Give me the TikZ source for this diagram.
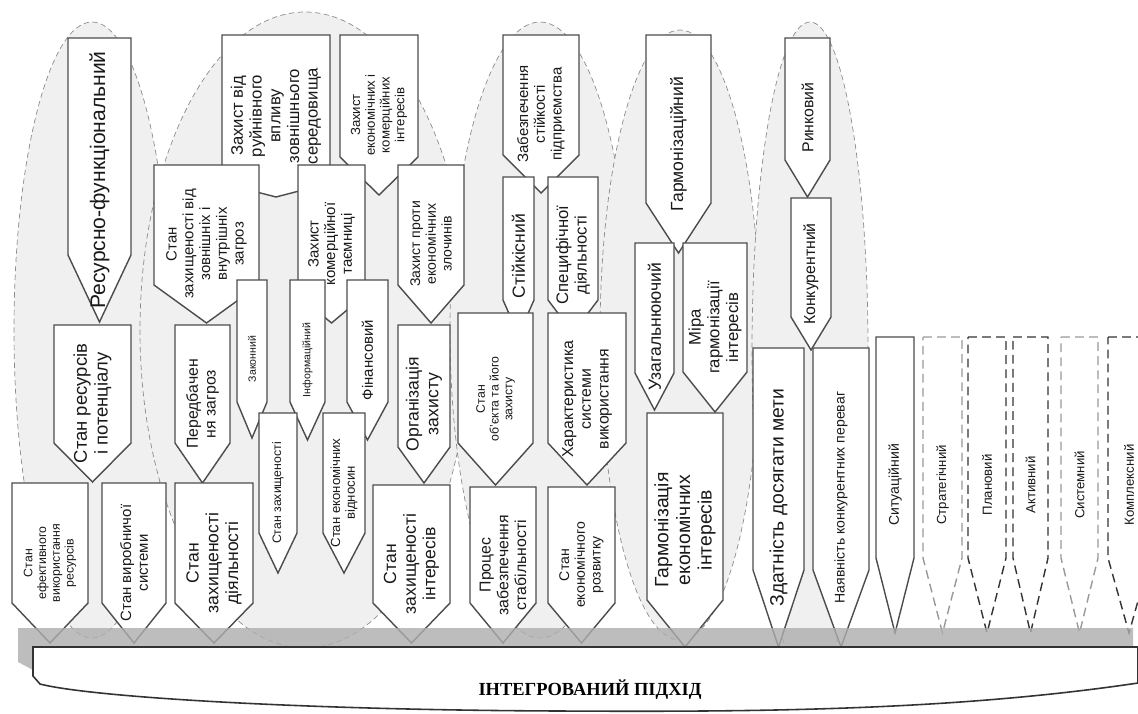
\documentclass[tikz,border=0pt]{standalone}
\usepackage{fontspec}
\setmainfont{Liberation Sans}
\newfontfamily\basefont{Liberation Serif}
\usepackage{tikz}

\newcommand{\fsz}[1]{\pgfmathsetmacro\fszskip{1.12*#1}\fontsize{#1}{\fszskip}\selectfont}
% pointed box: [style]{name}{x left}{x right}{y top}{y bottom}{y tip}{font size}{text}
\newcommand{\pent}[9][]{%
  \draw[pentbox,#1] (#3,#5) -- (#4,#5) -- (#4,#6) -- ({(#3+#4)/2},#7) -- (#3,#6) -- cycle;
  \node[pentlabel,font=\fsz{#8}] (#2) at ({(#3+#4)/2},{(#5+#7)/2}) {#9};
}

\begin{document}
\begin{tikzpicture}[x=0.02cm, y=-0.02cm,
  group/.style={draw=black!45, fill=black!6, densely dashed, line width=0.4pt},
  pentbox/.style={draw=black!70, fill=white, line width=0.8pt},
  dashbox/.style={draw=black!40, dash pattern=on 5pt off 3pt},
  dashdark/.style={draw=black!80, dash pattern=on 5pt off 3pt},
  pentlabel/.style={rotate=90, align=center, inner sep=0pt, text=black!90},
  basetext/.style={font=\basefont\bfseries\fontsize{10.5}{12}\selectfont}]
\useasboundingbox (0,0) rectangle (1138,713);

\draw[group] (92,330) ellipse [x radius=78, y radius=308];
\draw[group] (305,330) ellipse [x radius=165, y radius=318];
\draw[group] (540,330) ellipse [x radius=90, y radius=308];
\draw[group] (680,335) ellipse [x radius=80, y radius=305];
\draw[group] (810,350) ellipse [x radius=58, y radius=328];

\pent{resfunc}{68}{131}{38}{255}{322}{12}{Ресурсно-функціональний}
\pent{zahvid}{222}{330}{35}{183}{197}{9.5}{Захист від\\руйнівного\\впливу\\зовнішнього\\середовища}
\pent{zahek}{340}{418}{35}{157}{195}{7.5}{Захист\\економічних і\\комерційних\\інтересів}
\pent{zabst}{503}{579}{35}{155}{193}{8.5}{Забезпечення\\стійкості\\підприємства}
\pent{garm}{646}{711}{35}{203}{253}{10}{Гармонізаційний}
\pent{rynk}{785}{830}{38}{160}{197}{9}{Ринковий}

\pent{zahstan}{154}{259}{165}{285}{323}{8.5}{Стан\\захищеності від\\зовнішніх і\\внутрішніх\\загроз}
\pent{zahtaem}{298}{365}{165}{295}{323}{8.5}{Захист\\комерційної\\таємниці}
\pent{zahzl}{398}{464}{165}{285}{323}{8}{Захист проти\\економічних\\злочинів}
\pent{stiik}{503}{534}{177}{300}{335}{10}{Стійкісний}
\pent{specdij}{548}{598}{177}{300}{333}{9.5}{Специфічної\\діяльності}
\pent{konk}{791}{831}{198}{317}{350}{9}{Конкурентний}
\pent{uzag}{635}{674}{243}{373}{410}{10}{Узагальнюючий}
\pent{miragarm}{683}{747}{243}{372}{412}{9.5}{Міра\\гармонізації\\інтересів}

\pent{zakon}{237}{267}{280}{402}{438}{6}{Законний}
\pent{inform}{290}{325}{280}{402}{440}{6}{Інформаційний}
\pent{finans}{347}{388}{280}{402}{440}{8.5}{Фінансовий}
\pent{stanobj}{458}{533}{313}{443}{485}{7}{Стан\\об'єкта та його\\захисту}
\pent{harsys}{548}{626}{313}{443}{485}{9}{Характеристика\\системи\\використання}
\pent{stanres}{54}{131}{325}{443}{482}{10.5}{Стан ресурсів\\і потенціалу}
\pent{peredb}{175}{230}{325}{443}{483}{9}{Передбачен\\ня загроз}
\pent{orgzah}{398}{450}{325}{447}{483}{10}{Організація\\захисту}
\pent{sytuac}{876}{914}{337}{558}{633}{8}{Ситуаційний}
\pent[dashbox]{strat}{923}{962}{337}{558}{633}{7.5}{Стратегічний}
\pent[dashdark]{plan}{968}{1006}{337}{558}{633}{7.5}{Плановий}
\pent[dashdark]{aktyv}{1013}{1048}{337}{558}{633}{7.5}{Активний}
\pent[dashbox]{system}{1061}{1098}{337}{558}{633}{7.5}{Системний}
\pent[dashdark]{kompl}{1108}{1150}{337}{558}{633}{7.5}{Комплексний}
\pent{zdatn}{753}{804}{348}{570}{647}{11}{Здатність досягати мети}
\pent{nayavn}{813}{869}{348}{570}{647}{8}{Наявність конкурентних переваг}

\pent{stanzah}{259}{297}{413}{533}{573}{7}{Стан захищеності}
\pent{stanekv}{323}{365}{413}{533}{573}{7.5}{Стан економічних\\відносин}
\pent{garmek}{647}{723}{413}{600}{647}{11}{Гармонізація\\економічних\\інтересів}

\pent{stanvyk}{12}{88}{483}{603}{643}{7}{Стан\\ефективного\\використання\\ресурсів}
\pent{stanvyr}{102}{166}{483}{603}{643}{8.5}{Стан виробничої\\системи}
\pent{zahdij}{175}{253}{483}{603}{643}{10}{Стан\\захищеності\\діяльності}
\pent{zahint}{373}{450}{485}{603}{643}{10}{Стан\\захищеності\\інтересів}
\pent{proczab}{470}{536}{487}{603}{643}{9}{Процес\\забезпечення\\стабільності}
\pent{stanrozv}{548}{615}{487}{603}{643}{8}{Стан\\економічного\\розвитку}

\fill[black!32, fill opacity=0.8] (18,628) -- (1133,628) -- (1133,647) -- (33,647) -- (33,670) -- (18,662) -- cycle;
\draw[fill=white, draw=black!80, line width=0.9pt] (33,647) -- (1138,647) -- (1138,683)
  .. controls (950,711) and (750,712) .. (560,711)
  .. controls (300,710) and (90,697) .. (40,684) -- (33,676) -- cycle;
\node[basetext] (pidhid) at (590,690) {ІНТЕГРОВАНИЙ ПІДХІД};
\end{tikzpicture}
\end{document}
